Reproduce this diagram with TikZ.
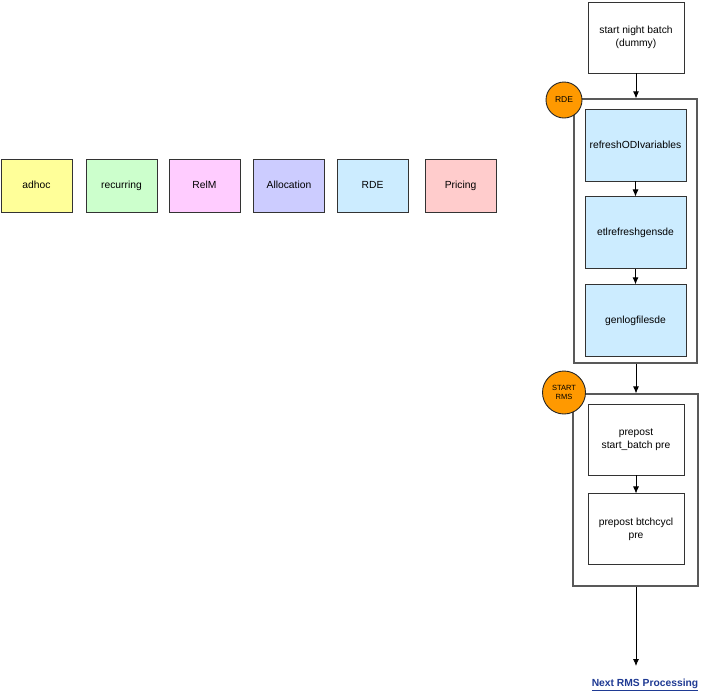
\documentclass[tikz,border=0pt]{standalone}
\usepackage{fontspec}
\setmainfont{Liberation Sans}
\usepackage{xcolor}
\usepackage{tikz}
\usetikzlibrary{calc}
\usetikzlibrary{arrows.meta}
\usetikzlibrary{positioning}
\definecolor{adhocyellow}{HTML}{FFFF99}
\definecolor{recurgreen}{HTML}{CCFFCC}
\definecolor{relmpink}{HTML}{FFCCFF}
\definecolor{allocblue}{HTML}{CCCCFF}
\definecolor{rdeblue}{HTML}{CCECFF}
\definecolor{pricered}{HTML}{FFCCCC}
\definecolor{badgeorange}{HTML}{FF9900}
\definecolor{linkblue}{HTML}{1F3A93}
\tikzset{box/.style={draw=black!80, line width=0.9pt, rectangle, inner sep=2pt, align=center, text=black},
	legend/.style={box, minimum width=71pt, minimum height=53pt, text height=7.5pt, text depth=2pt},
	job/.style={box, minimum width=96pt, minimum height=71pt},
	rdejob/.style={box, fill=rdeblue, minimum width=101pt, minimum height=72pt},
	group/.style={draw=black!65, line width=1.2pt, rectangle},
	badge/.style={draw=black!85, line width=0.9pt, circle, fill=badgeorange, inner sep=0pt, align=center},
	flow/.style={-{Latex[length=7pt,width=6pt]}, line width=0.8pt}}

\begin{document}
\begin{tikzpicture}[x=1pt, y=-1pt, node distance={15pt}, font=\fontsize{10.3}{12.5}\selectfont]
		\useasboundingbox (0,0) rectangle (706,697);
		
		% legend
		\node[legend, fill=adhocyellow] (adhoc) at (36.5,185.5) {adhoc};
		\node[legend, fill=recurgreen] (recurring) at (121.5,185.5) {recurring};
		\node[legend, fill=relmpink] (relm) at (204.5,185.5) {RelM};
		\node[legend, fill=allocblue] (alloc) at (289,185.5) {Allocation};
		\node[legend, fill=rdeblue] (rde) at (372.5,185.5) {RDE};
		\node[legend, fill=pricered] (pricing) at (460.5,185.5) {Pricing};
		
		% night batch
		\node[job] (start) at (636,37.5) {start night batch\\(dummy)};
		
		\node[group, minimum width=123pt, minimum height=264pt] (rdegroup) at (635.5,231) {};
		\node[rdejob] (refresh) at (635.5,145) {refreshODIvariables};
		\node[rdejob] (etl) [below=15pt of refresh] {etlrefreshgensde};
		\node[rdejob] (genlog) [below=15pt of etl] {genlogfilesde};
		\node[badge, minimum size=36pt, font=\fontsize{8.5}{10}\selectfont] (rdebadge) at (564,100) {RDE};
		
		\node[group, minimum width=125pt, minimum height=192pt] (rmsgroup) at (635.5,490) {};
		\node[job] (prestart) at (636,439.5) {prepost\\start\_batch pre};
		\node[job] (precycl) [below=18pt of prestart] {prepost btchcycl\\pre};
		\node[badge, minimum size=43pt, font=\fontsize{7.5}{9}\selectfont] (rmsbadge) at (564,392.5) {START\\RMS};
		
		\node[text=linkblue, font=\fontsize{10.3}{12.5}\selectfont\bfseries] (next) at (645,685) {\underline{Next RMS Processing}};
		\coordinate (nextend) at (636,666);
		
		\draw[flow] (start) -- (start |- rdegroup.north);
		\draw[flow] (refresh) -- (etl);
		\draw[flow] (etl) -- (genlog);
		\draw[flow] (rdegroup.south -| start) -- (start |- rmsgroup.north);
		\draw[flow] (prestart) -- (precycl);
		\draw[flow] (rmsgroup.south -| start) -- (nextend);
	\end{tikzpicture}
\end{document}
